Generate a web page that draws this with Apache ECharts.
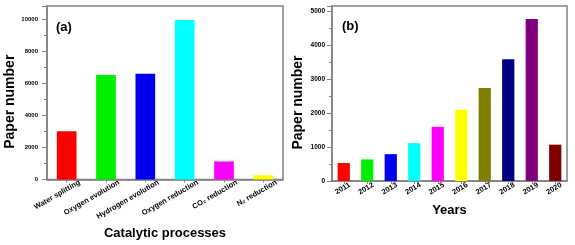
<!DOCTYPE html>
<html>
<head>
<meta charset="utf-8">
<script src="https://cdn.jsdelivr.net/npm/echarts@6/dist/echarts.min.js"></script>
<style>html,body{margin:0;padding:0;background:#fff}#c{width:575px;height:245px}</style>
</head>
<body>
<div id="c"></div>
<script>
// Panel (a)
const processCategories = ['Water splitting', 'Oxygen evolution', 'Hydrogen evolution', 'Oxygen reduction', 'CO\u2082 reduction', 'N\u2082 reduction'];
const processValues = [3000, 6500, 6580, 9930, 1120, 260];
const processTicks = [0, 2000, 4000, 6000, 8000, 10000];
// Panel (b)
const yearCategories = ['2011', '2012', '2013', '2014', '2015', '2016', '2017', '2018', '2019', '2020'];
const yearValues = [530, 635, 790, 1115, 1595, 2100, 2740, 3585, 4770, 1070];
const yearTicks = [0, 1000, 2000, 3000, 4000, 5000];

const processColors = ['#ff0000', '#00ee00', '#0000ee', '#00ffff', '#ff00ff', '#ffff00'];
const yearColors = ['#ff0000', '#00ee00', '#0000ee', '#00ffff', '#ff00ff', '#ffff00', '#808000', '#000080', '#800080', '#800000'];

const FONT = '"Liberation Sans", Arial, sans-serif';
const AX = '#808080';

function xAxisCfg(idx, cats, name, gap, labelPad, labelMargin) {
  return {
    type: 'category', gridIndex: idx, data: cats,
    name: name, nameLocation: 'middle', nameGap: gap,
    nameTextStyle: {fontFamily: FONT, fontWeight: 'bold', fontSize: 13, color: '#000'},
    axisLine: {lineStyle: {color: AX, width: 1.5}},
    axisTick: {show: true, alignWithLabel: true, length: 3, lineStyle: {color: AX}},
    axisLabel: {rotate: 30, interval: 0, margin: labelMargin, fontFamily: FONT, fontWeight: 'bold', fontSize: 7.5, color: '#000', padding: [0, labelPad, 0, 0]},
    splitLine: {show: false}
  };
}
function yAxisCfg(idx, ticks, max, labelSize, labelMargin) {
  return {
    type: 'value', gridIndex: idx, min: ticks[0], max: max, interval: ticks[1] - ticks[0],
    name: 'Paper number', nameLocation: 'middle', nameRotate: 90, nameGap: idx === 0 ? 29 : 27,
    nameTextStyle: {fontFamily: FONT, fontWeight: 'bold', fontSize: 14, color: '#000', padding: [0, 18, 0, 0]},
    axisLine: {show: true, lineStyle: {color: AX, width: 1.5}},
    axisTick: {show: true, length: 5, lineStyle: {color: AX}},
    minorTick: {show: true, splitNumber: 2, length: 3, lineStyle: {color: AX}},
    axisLabel: {showMaxLabel: false, margin: labelMargin, fontFamily: FONT, fontWeight: 'bold', fontSize: labelSize, color: '#000',
      formatter: v => (ticks.indexOf(v) >= 0 ? String(v) : '')},
    splitLine: {show: false}
  };
}

const chart = echarts.init(document.getElementById('c'), null, {renderer: 'canvas'});
chart.setOption({
  animation: false,
  backgroundColor: '#fff',
  title: [
    {text: '(a)', left: 51, top: 16, textStyle: {fontFamily: FONT, fontWeight: 'bold', fontSize: 13, color: '#000'}},
    {text: '(b)', left: 337, top: 15, textStyle: {fontFamily: FONT, fontWeight: 'bold', fontSize: 13, color: '#000'}}
  ],
  grid: [
    {left: 47, top: 6, width: 236, height: 176, show: true, borderColor: AX, borderWidth: 1.5, backgroundColor: 'transparent'},
    {left: 332, top: 6, width: 235, height: 175, show: true, borderColor: AX, borderWidth: 1.5, backgroundColor: 'transparent'}
  ],
  xAxis: [
    xAxisCfg(0, processCategories, 'Catalytic processes', 44, -15, 10),
    xAxisCfg(1, yearCategories, 'Years', 23, -7, 7)
  ],
  yAxis: [
    yAxisCfg(0, processTicks, 10800, 6, 9),
    yAxisCfg(1, yearTicks, 5150, 6.5, 7)
  ],
  series: [
    {type: 'bar', xAxisIndex: 0, yAxisIndex: 0, barCategoryGap: '50%', data: processValues,
      itemStyle: {color: p => processColors[p.dataIndex]}},
    {type: 'bar', xAxisIndex: 1, yAxisIndex: 1, barCategoryGap: '48%', data: yearValues,
      itemStyle: {color: p => yearColors[p.dataIndex]}}
  ]
});
</script>
</body>
</html>
